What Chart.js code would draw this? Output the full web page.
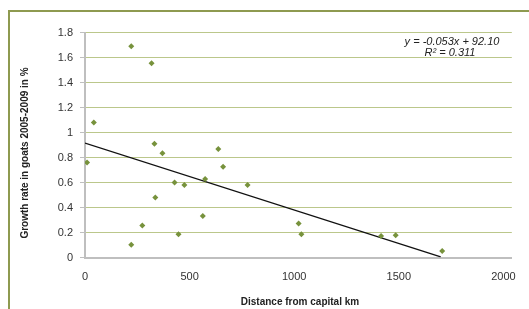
<!DOCTYPE html>
<html>
<head>
<meta charset="utf-8">
<script src="https://cdn.jsdelivr.net/npm/chart.js@4"></script>
<style>
  html, body { margin: 0; padding: 0; background: #fff; overflow: hidden; }
  #wrap { position: relative; width: 529px; height: 309px; }
  #frame {
    position: absolute; left: 8px; top: 10px; width: 700px; height: 400px;
    border-left: 2px solid #8e9a50; border-top: 2px solid #8e9a50;
  }
  canvas { position: absolute; left: 0; top: 0; }
</style>
</head>
<body>
<div id="wrap">
  <div id="frame"></div>
  <canvas id="chart" width="529" height="309"></canvas>
</div>
<script>
// distance from capital (km) and growth rate in goats 2005-2009 (%)
const distanceKm = [10, 42, 221, 318, 332, 370, 428, 475, 336, 274, 447, 221, 563, 637, 660, 574, 777, 1021, 1034, 1415, 1485, 1707];
const growthRate = [0.76, 1.08, 1.69, 1.555, 0.91, 0.835, 0.60, 0.58, 0.48, 0.257, 0.187, 0.103, 0.333, 0.868, 0.727, 0.628, 0.581, 0.273, 0.187, 0.173, 0.178, 0.052];

// linear trend line end points, as drawn
const trendX = [0, 1700];
const trendY = [0.915, 0.005];

const xTicks = [0, 500, 1000, 1500, 2000];
const equationText = ['y = -0.053x + 92.10', 'R\u00B2 = 0.311'];
const xTitle = 'Distance from capital km';
const yTitle = 'Growth rate in goats 2005-2009 in %';

Chart.defaults.font.family = '"Liberation Sans", Arial, sans-serif';
Chart.defaults.color = '#333';

// draws axis titles and the trend equation
const textPlugin = {
  id: 'textPlugin',
  afterDraw(chart) {
    const ctx = chart.ctx;
    ctx.save();
    ctx.fillStyle = '#222';
    ctx.textAlign = 'center';
    ctx.textBaseline = 'middle';
    ctx.font = 'bold 10px "Liberation Sans", Arial';
    ctx.fillText(xTitle, 300, 302);
    ctx.translate(25, 153);
    ctx.rotate(-Math.PI / 2);
    ctx.fillText(yTitle, 0, 0);
    ctx.restore();

    ctx.save();
    ctx.fillStyle = '#222';
    ctx.textAlign = 'center';
    ctx.textBaseline = 'middle';
    ctx.font = 'italic 11px "Liberation Sans", Arial';
    ctx.fillText(equationText[0], 452, 42);
    ctx.fillText(equationText[1], 450, 53);
    ctx.restore();
  }
};

const ctx = document.getElementById('chart').getContext('2d');
new Chart(ctx, {
  type: 'scatter',
  data: {
    datasets: [
      {
        label: 'Growth rate',
        data: distanceKm.map((x, i) => ({ x, y: growthRate[i] })),
        pointStyle: 'rectRot',
        pointRadius: 3,
        backgroundColor: '#77923c',
        borderColor: '#77923c',
        borderWidth: 0,
        order: 1,
      },
      {
        label: 'Trend',
        type: 'line',
        data: trendX.map((x, i) => ({ x, y: trendY[i] })),
        borderColor: '#111',
        borderWidth: 1.4,
        pointRadius: 0,
        fill: false,
        order: 2,
      },
    ],
  },
  options: {
    responsive: false,
    animation: false,
    layout: { padding: { top: 32.5, right: 15, left: 0, bottom: 0 } },
    plugins: {
      legend: { display: false },
      tooltip: { enabled: false },
    },
    scales: {
      x: {
        type: 'linear',
        min: 0,
        max: 2040,
        afterBuildTicks: (scale) => {
          scale.ticks = xTicks.map((v) => ({ value: v }));
        },
        afterFit: (scale) => { scale.height = 51.5; },
        grid: { drawOnChartArea: false, drawTicks: false },
        border: { color: '#bfbfbf', width: 2 },
        ticks: {
          padding: 13,
          font: { size: 11 },
          color: '#333',
          callback: (v) => String(v),
        },
      },
      y: {
        min: 0,
        max: 1.8,
        afterFit: (scale) => { scale.width = 85; },
        ticks: {
          stepSize: 0.2,
          padding: 7,
          font: { size: 11 },
          color: '#333',
          callback: (v) => String(Math.round(v * 10) / 10),
        },
        grid: {
          color: (c) => (c.tick && c.tick.value === 0 ? 'rgba(0,0,0,0)' : 'rgba(170,185,110,0.8)'),
          lineWidth: 1,
          borderDash: [2, 1],
          drawTicks: true,
          tickLength: 5,
          tickColor: '#bfbfbf',
          tickBorderDash: [],
        },
        border: { color: '#bfbfbf', width: 2 },
      },
    },
  },
  plugins: [textPlugin],
});
</script>
</body>
</html>
